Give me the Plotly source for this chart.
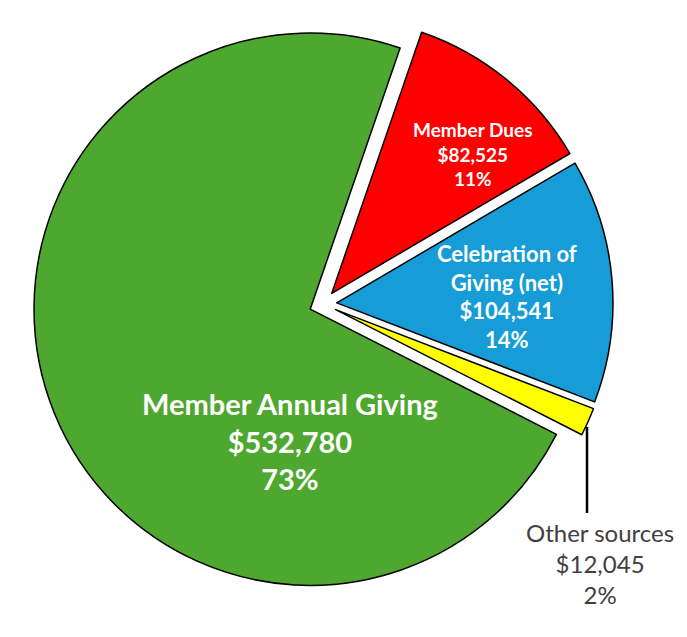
import plotly.graph_objects as go

labels = ["Member Dues", "Celebration of Giving (net)", "Other sources", "Member Annual Giving"]
label_lines = ["Member Dues", "Celebration of<br>Giving (net)", "Other sources", "Member Annual Giving"]
values = [82525, 104541, 12045, 532780]
colors = ["#FF0000", "#169CD7", "#FFFF00", "#4EA72E"]

OFF = 8  # page body margin
W, H = 679, 629
L, R, T, B = 25, 74, 6, 43
pw, ph = W - L - R, H - T - B

def px(x):
    return (x - OFF - L) / pw

def py(y):
    return 1 - (y - OFF - T) / ph

total = sum(values)
pcts = [round(v / total * 100) for v in values]

fig = go.Figure(go.Pie(
    labels=labels, values=values, sort=False, direction="clockwise",
    rotation=19, pull=[0.05] * 4,
    marker=dict(colors=colors, line=dict(color="black", width=1.5)),
    textinfo="none", hoverinfo="label+value+percent", showlegend=False,
))

# label placement (pixel centres in the window) and styling
label_pos = [(472, 154), (507, 296), (600, 563), (290, 441)]
label_size = [19, 22, 24, 29]
label_color = ["white", "white", "#404040", "white"]
label_bold = [True, True, False, True]

for i in range(4):
    txt = f"{label_lines[i]}<br>${values[i]:,}<br>{pcts[i]}%"
    if label_bold[i]:
        txt = "<b>" + txt + "</b>"
    fig.add_annotation(
        x=px(label_pos[i][0]), y=py(label_pos[i][1]), xref="paper", yref="paper",
        xanchor="center", yanchor="middle",
        text=txt, showarrow=False, align="center",
        font=dict(family="Lato", size=label_size[i], color=label_color[i]),
    )

# leader line for Other sources
fig.add_shape(type="line", xref="paper", yref="paper",
              x0=px(587), x1=px(587), y0=py(427), y1=py(513),
              line=dict(color="black", width=2.5))

fig.update_layout(width=W, height=H, margin=dict(l=L, r=R, t=T, b=B),
                  paper_bgcolor="white", plot_bgcolor="white")
fig.write_html("out.html")
